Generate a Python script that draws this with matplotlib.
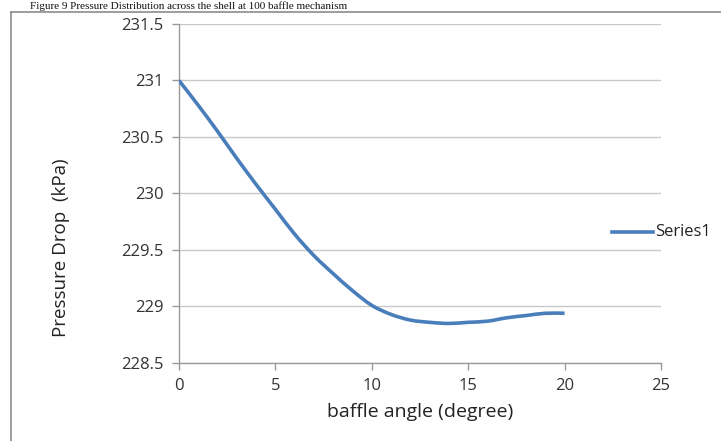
import matplotlib
matplotlib.use("Agg")
import matplotlib.pyplot as plt
from matplotlib.lines import Line2D
from matplotlib.path import Path
from matplotlib.patches import PathPatch

# Data
angle = [0, 1, 2, 3, 4, 5, 6, 7, 8, 9, 10, 11, 12, 13, 14, 15, 16, 17, 18, 19, 20]
pressure = [231.0, 230.78, 230.55, 230.31, 230.08, 229.86, 229.64, 229.45, 229.29,
            229.14, 229.01, 228.93, 228.88, 228.86, 228.85, 228.86, 228.87, 228.90,
            228.92, 228.94, 228.94]
xticks = [0, 5, 10, 15, 20, 25]
yticks = [228.5, 229, 229.5, 230, 230.5, 231, 231.5]
ytick_labels = ["228.5", "229", "229.5", "230", "230.5", "231", "231.5"]
series_name = "Series1"
caption = "Figure 9 Pressure Distribution across the shell at 100 baffle mechanism"

W, H = 721, 441
fig = plt.figure(figsize=(W / 100, H / 100), dpi=100)
plt.rcParams['font.family'] = ["Open Sans", 'DejaVu Sans']

def fx(px):
    return px / W

def fy(py):
    return 1 - py / H

ax = fig.add_axes([fx(179), fy(363), fx(661) - fx(179), fy(24) - fy(363)])
line_color = "#4A7EBB"

# smoothed line (Excel-style) through the data points, drawn with Bezier curves
pts = list(zip(angle, pressure))
verts = [pts[0]]
codes = [Path.MOVETO]
n = len(pts)
for i in range(n - 1):
    p0 = pts[max(i - 1, 0)]
    p1 = pts[i]
    p2 = pts[i + 1]
    p3 = pts[min(i + 2, n - 1)]
    c1 = (p1[0] + (p2[0] - p0[0]) / 6, p1[1] + (p2[1] - p0[1]) / 6)
    c2 = (p2[0] - (p3[0] - p1[0]) / 6, p2[1] - (p3[1] - p1[1]) / 6)
    verts += [c1, c2, p2]
    codes += [Path.CURVE4] * 3
ax.add_patch(PathPatch(Path(verts, codes), facecolor="none", edgecolor=line_color,
                       lw=2.6, capstyle="butt", zorder=3))

ax.set_xlim(0, 25)
ax.set_ylim(228.5, 231.5)
ax.set_xticks(xticks)
ax.set_yticks(yticks)
ax.set_yticklabels(ytick_labels)
ax.grid(axis="y", color="#c8c8c8", lw=1)
ax.set_axisbelow(True)
for s in ["top", "right"]:
    ax.spines[s].set_visible(False)
for s in ["left", "bottom"]:
    ax.spines[s].set_color("#9a9a9a")
    ax.spines[s].set_linewidth(1)
ax.tick_params(axis="both", colors="#9a9a9a", length=5, width=1, direction="out",
               labelcolor="#333333", labelsize=12)
ax.tick_params(axis="y", pad=6)
ax.tick_params(axis="x", pad=6)
ax.set_xlabel("baffle angle (degree)", fontsize=14, color="#222222", labelpad=6)
ax.set_ylabel("Pressure Drop  (kPa)", fontsize=13.5, color="#222222", labelpad=37, y=0.34)

# legend
fig.add_artist(Line2D([fx(612), fx(653)], [fy(232), fy(232)], color=line_color, lw=2.6,
                      transform=fig.transFigure))
fig.text(fx(655), fy(232), series_name, fontsize=12, color="#222222", va="center", ha="left")

# chart border (top and left visible)
fig.add_artist(Line2D([fx(11), fx(11)], [fy(12), fy(445)], color="#8c8c8c", lw=1.2,
                      transform=fig.transFigure))
fig.add_artist(Line2D([fx(11), fx(725)], [fy(12), fy(12)], color="#8c8c8c", lw=1.2,
                      transform=fig.transFigure))

# caption at very top
fig.text(fx(30), fy(9), caption, fontsize=8, family="Liberation Serif",
         color="#111111", va="baseline", ha="left")

fig.savefig("out.png", dpi=100)
